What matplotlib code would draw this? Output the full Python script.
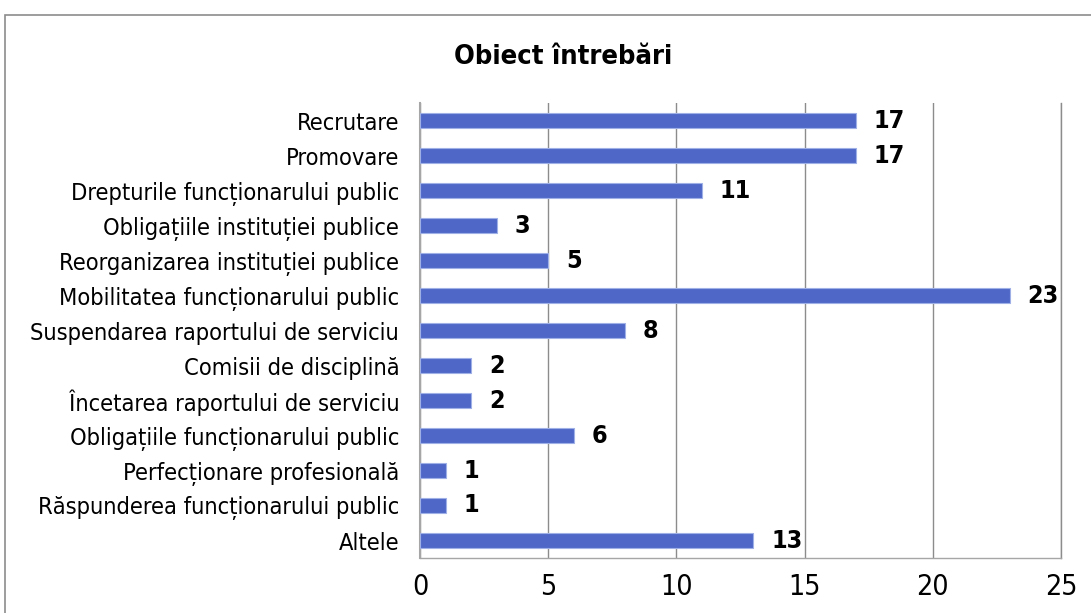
import matplotlib
matplotlib.use('Agg')
import matplotlib.pyplot as plt
from matplotlib.patches import Rectangle

plt.rcParams['font.family'] = ['DejaVu Sans']
plt.rcParams['font.stretch'] = 'condensed'

categories = [
    "Recrutare",
    "Promovare",
    "Drepturile funcționarului public",
    "Obligațiile instituției publice",
    "Reorganizarea instituției publice",
    "Mobilitatea funcționarului public",
    "Suspendarea raportului de serviciu",
    "Comisii de disciplină",
    "Încetarea raportului de serviciu",
    "Obligațiile funcționarului public",
    "Perfecționare profesională",
    "Răspunderea funcționarului public",
    "Altele",
]
values = [17, 17, 11, 3, 5, 23, 8, 2, 2, 6, 1, 1, 13]
xticks = [0, 5, 10, 15, 20, 25]

bar_color = '#4f68c8'
grid_color = '#8c8c8c'

fig = plt.figure(figsize=(10.91, 6.13), dpi=100)
# outer chart border (cropped at right/bottom like the reference)
fig.patches.append(Rectangle((5 / 1091, -0.1), 1.2, 1 - 15 / 613 + 0.1,
                             transform=fig.transFigure, fill=False,
                             edgecolor='#8c8c8c', linewidth=1.2))

ax = fig.add_axes([420 / 1091, 1 - 558 / 613, (1061 - 420) / 1091, (558 - 103) / 613])

y = list(range(len(categories)))
ax.barh(y, values, height=0.42, color=bar_color, edgecolor='#9fb0e6', linewidth=0.8, zorder=3)
for yi, v in zip(y, values):
    ax.text(v + 0.7, yi, str(v), va='center', ha='left', fontsize=18, fontweight='bold', color='black')

ax.set_ylim(len(categories) - 0.5, -0.5)
ax.set_xlim(0, 25)
ax.set_xticks(xticks)
ax.set_yticks(y)
ax.set_yticklabels(categories, fontsize=16.9)
ax.tick_params(axis='x', labelsize=20.5, length=0, pad=11)
ax.tick_params(axis='y', length=0, pad=15)

ax.grid(axis='x', color=grid_color, linewidth=1.0, zorder=0)
ax.axvline(25, color=grid_color, linewidth=1.0, zorder=0, clip_on=False)
for s in ['top', 'right']:
    ax.spines[s].set_visible(False)
ax.spines['left'].set_color('#a6a6a6')
ax.spines['left'].set_linewidth(1.5)
ax.spines['bottom'].set_color('#a6a6a6')
ax.spines['bottom'].set_linewidth(1.0)

fig.text(563 / 1091, 1 - 57 / 613, "Obiect întrebări", ha='center', va='center',
         fontsize=19.6, fontweight='bold')

fig.savefig('out.png', dpi=100)
